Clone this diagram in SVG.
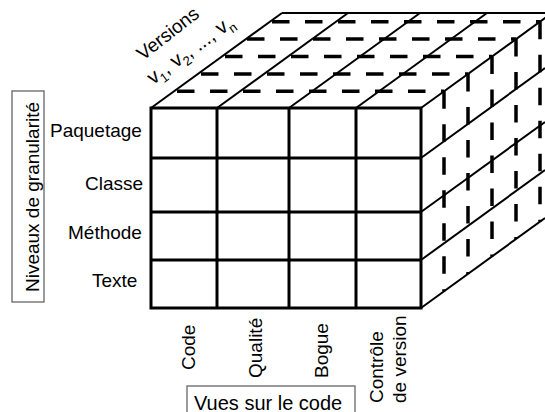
<svg xmlns="http://www.w3.org/2000/svg" width="545" height="412" viewBox="0 0 545 412">
<style>
  .t { font-family: "Liberation Sans", Arial, sans-serif; font-size: 19px; fill: #000; }
  .front { fill: none; stroke: #000; stroke-width: 3; }
  .edge { fill: none; stroke: #000; stroke-width: 2; }
  .dash { fill: none; stroke: #000; stroke-width: 3.5; stroke-dasharray: 17.5 15.5; }
  .box { fill: none; stroke: #666; stroke-width: 1.3; }
  .sub { font-size: 13px; }
</style>
<rect width="545" height="412" fill="#fff"/>
<g id="top-face-dashes">
  <line class="dash" x1="177" y1="91.3" x2="444" y2="91.3"/>
  <line class="dash" x1="201" y1="73.9" x2="468" y2="73.9"/>
  <line class="dash" x1="225" y1="56.5" x2="492" y2="56.5"/>
  <line class="dash" x1="247" y1="39.1" x2="516" y2="39.1"/>
  <line class="dash" x1="272" y1="21.7" x2="540" y2="21.7"/>
</g>
<g id="right-face-dashes">
  <line class="dash" x1="444" y1="91.3" x2="444" y2="291.3"/>
  <line class="dash" x1="468" y1="73.9" x2="468" y2="273.9"/>
  <line class="dash" x1="492" y1="56.5" x2="492" y2="256.5"/>
  <line class="dash" x1="516" y1="39.1" x2="516" y2="239.1"/>
  <line class="dash" x1="540" y1="21.7" x2="540" y2="221.7"/>
</g>
<g id="top-face">
  <line class="edge" x1="151" y1="108" x2="282" y2="13"/>
  <line class="edge" x1="217" y1="108" x2="348" y2="13"/>
  <line class="edge" x1="289" y1="108" x2="420" y2="13"/>
  <line class="edge" x1="356" y1="108" x2="487" y2="13"/>
  <line class="edge" x1="421" y1="108" x2="552" y2="13"/>
  <line class="edge" x1="282" y1="13" x2="545" y2="13" stroke-width="2.5"/>
</g>
<g id="right-face">
  <line class="edge" x1="421" y1="158" x2="545" y2="68"/>
  <line class="edge" x1="421" y1="212" x2="545" y2="122"/>
  <line class="edge" x1="421" y1="260" x2="545" y2="170"/>
  <line class="edge" x1="421" y1="308" x2="545" y2="218"/>
</g>
<g id="front-face">
  <rect class="front" x="151" y="108" width="270" height="200"/>
  <line class="front" x1="217" y1="108" x2="217" y2="308"/>
  <line class="front" x1="289" y1="108" x2="289" y2="308"/>
  <line class="front" x1="356" y1="108" x2="356" y2="308"/>
  <line class="front" x1="151" y1="158" x2="421" y2="158"/>
  <line class="front" x1="151" y1="212" x2="421" y2="212"/>
  <line class="front" x1="151" y1="260" x2="421" y2="260"/>
</g>
<g id="granularity-labels">
  <text class="t" x="50" y="137">Paquetage</text>
  <text class="t" x="85" y="190">Classe</text>
  <text class="t" x="68" y="239">Méthode</text>
  <text class="t" x="92" y="287">Texte</text>
</g>
<g id="granularity-axis">
  <rect class="box" x="12" y="91" width="32" height="211"/>
  <text class="t" text-anchor="middle" transform="translate(38.5,197) rotate(-90)">Niveaux de granularité</text>
</g>
<g id="view-labels">
  <text class="t" transform="translate(194.5,370) rotate(-90)">Code</text>
  <text class="t" transform="translate(262,378) rotate(-90)">Qualité</text>
  <text class="t" transform="translate(328,378) rotate(-90)">Bogue</text>
  <text class="t" transform="translate(383,403) rotate(-90)">Contrôle</text>
  <text class="t" transform="translate(406,403) rotate(-90)">de version</text>
</g>
<g id="views-axis">
  <rect class="box" x="187" y="386" width="168" height="40"/>
  <text class="t" x="194" y="409.5" style="font-size:20px">Vues sur le code</text>
</g>
<g id="versions-axis">
  <text class="t" transform="translate(143,61) rotate(-38)">Versions</text>
  <text class="t" transform="translate(153,85) rotate(-36)" style="font-size:20px">v<tspan class="sub" dy="5">1</tspan><tspan dy="-5">, v</tspan><tspan class="sub" dy="5">2</tspan><tspan dy="-5">, ..., v</tspan><tspan class="sub" dy="5">n</tspan></text>
</g>
</svg>
